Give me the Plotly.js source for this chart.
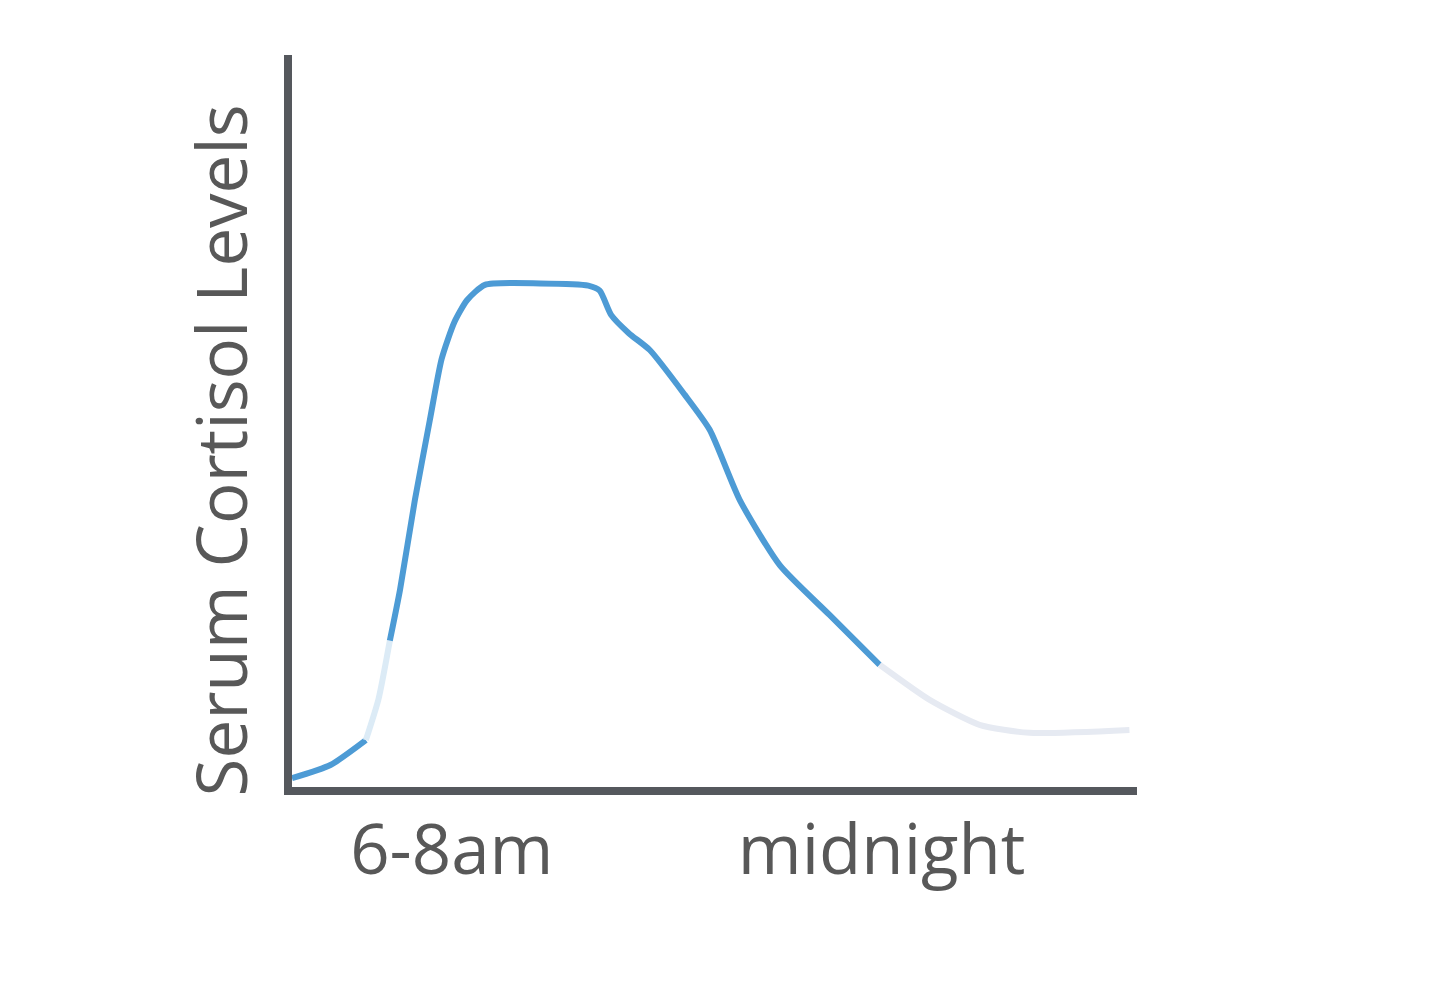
<!DOCTYPE html>
<html>
<head>
<meta charset="utf-8">
<script src="https://cdn.plot.ly/plotly-3.0.1.min.js"></script>
<style>
  html, body { margin: 0; padding: 0; background: #fff; }
  #chart { width: 1440px; height: 1002px; }
</style>
</head>
<body>
<div id="chart"></div>
<script>
// hours of the day (x) and relative serum cortisol level (y)
const startHours = [0.68, 2.2, 3.6];
const startLevels = [1.2, 3.0, 6.4];

const fadeInHours = [3.6, 4.1, 4.55];
const fadeInLevels = [6.4, 12, 20];

const mainHours = [4.55, 4.95, 5.54, 6.13, 6.6, 7.1, 7.6, 8.31, 10.5, 12.4, 12.85, 13.3, 14.0, 14.83, 16.21, 17.2, 18.39, 19.97, 21.94, 23.92];
const mainLevels = [20, 26.9, 39.2, 50.1, 58.5, 63.5, 66.5, 68.6, 68.8, 68.5, 67.8, 64.5, 62.0, 59.7, 53.6, 48.8, 39.2, 30.3, 23.5, 16.7];

const tailHours = [23.92, 25.9, 27.87, 29.85, 33.8];
const tailLevels = [16.7, 11.9, 8.5, 7.4, 7.8];

const tickHours = [7, 24];
const tickLabels = ["6-8am", "midnight"];

const axisColor = "#55585d";
const textColor = "#585858";
const curveColor = "#4d9bd5";

function curve(x, y, color) {
  return {
    type: "scatter", mode: "lines", x: x, y: y,
    line: {color: color, width: 6, shape: "spline", smoothing: 0.6},
    hoverinfo: "skip", showlegend: false
  };
}

const data = [
  curve(startHours, startLevels, curveColor),
  curve(fadeInHours, fadeInLevels, "#dcebf6"),
  curve(mainHours, mainLevels, curveColor),
  curve(tailHours, tailLevels, "#e6eaf2")
];

const layout = {
  width: 1440, height: 1002,
  margin: {l: 292, r: 303, t: 55, b: 215},
  paper_bgcolor: "#fff", plot_bgcolor: "#fff",
  font: {family: "Open Sans, sans-serif", color: textColor},
  xaxis: {
    range: [0.68, 34.1], showgrid: false, zeroline: false,
    showline: true, linecolor: axisColor, linewidth: 8,
    tickvals: tickHours, ticktext: tickLabels, ticks: "",
    ticklabelstandoff: -4,
    tickfont: {size: 69, color: textColor}
  },
  yaxis: {
    range: [0, 100], showgrid: false, zeroline: false,
    showline: true, linecolor: axisColor, linewidth: 8,
    showticklabels: false, ticks: ""
  },
  annotations: [{
    text: "Serum Cortisol Levels", textangle: -90,
    xref: "paper", yref: "paper", x: -0.085, y: 0.46,
    xanchor: "center", yanchor: "middle",
    showarrow: false, font: {size: 69, color: textColor}
  }]
};

Plotly.newPlot("chart", data, layout, {staticPlot: true});
</script>
</body>
</html>
